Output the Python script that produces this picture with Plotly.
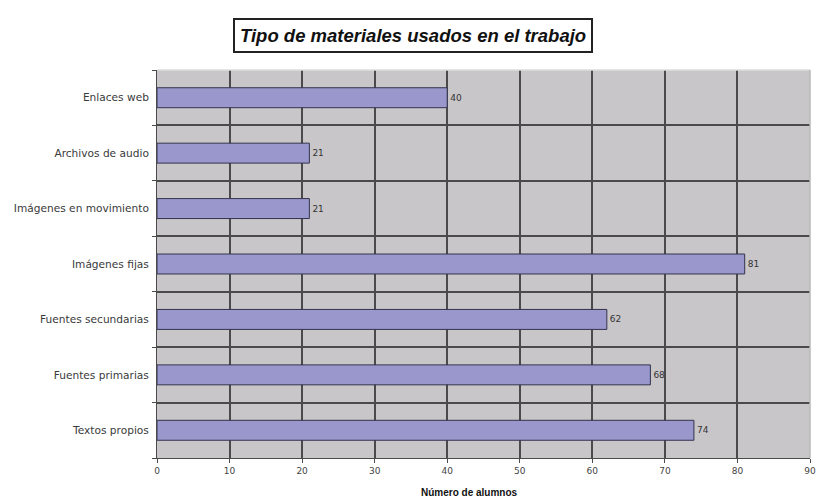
import plotly.graph_objects as go

# Material types (bottom to top) and number of students using each
categorias = [
    "Textos propios",
    "Fuentes primarias",
    "Fuentes secundarias",
    "Imágenes fijas",
    "Imágenes en movimiento",
    "Archivos de audio",
    "Enlaces web",
]
alumnos = [74, 68, 62, 81, 21, 21, 40]
x_ticks = [0, 10, 20, 30, 40, 50, 60, 70, 80, 90]

GRID = "#4A4A4A"
FONT = "DejaVu Sans, Verdana, sans-serif"

fig = go.Figure(
    go.Bar(
        y=categorias,
        x=alumnos,
        orientation="h",
        width=0.36,
        marker=dict(color="#9997CC", line=dict(color="#33334D", width=1)),
        text=[str(v) for v in alumnos],
        textposition="outside",
        textfont=dict(family=FONT, size=9, color="#333"),
        cliponaxis=False,
    )
)

fig.update_layout(
    width=822,
    height=500,
    margin=dict(l=157, r=6, t=70, b=42),
    paper_bgcolor="white",
    plot_bgcolor="#C8C6C9",
    showlegend=False,
    xaxis=dict(
        range=[0, 90],
        tickvals=x_ticks,
        ticktext=[str(v) for v in x_ticks],
        showgrid=True,
        gridcolor=GRID,
        gridwidth=1.5,
        zeroline=False,
        showline=True,
        linecolor=GRID,
        linewidth=1,
        ticks="outside",
        ticklen=4,
        tickcolor=GRID,
        ticklabeloverflow="allow",
        tickfont=dict(family=FONT, size=9, color="#444"),
    ),
    yaxis=dict(
        type="category",
        categoryorder="array",
        categoryarray=categorias,
        tickson="boundaries",
        showgrid=True,
        gridcolor=GRID,
        gridwidth=1.5,
        showline=True,
        linecolor=GRID,
        linewidth=1,
        ticks="outside",
        ticklen=4,
        tickcolor=GRID,
        ticklabelstandoff=5,
        tickfont=dict(family=FONT, size=10.6, color="#3A3A3A"),
    ),
    shapes=[
        # light frame along the top and right edges of the plot area
        dict(type="line", xref="paper", yref="paper", x0=0, x1=1, y0=1, y1=1,
             line=dict(color="#DCDCDC", width=1.5), layer="above"),
        dict(type="line", xref="paper", yref="paper", x0=1, x1=1, y0=0, y1=1,
             line=dict(color="#B8B8B8", width=1.5), layer="above"),
    ],
    annotations=[
        dict(
            text="<b><i>Tipo de materiales usados en el trabajo</i></b>",
            xref="paper",
            yref="paper",
            x=0.3915,
            y=1.0,
            yshift=35,
            xanchor="center",
            yanchor="middle",
            showarrow=False,
            font=dict(family="Liberation Sans, Arial", size=18.5, color="#111"),
            bordercolor="#222",
            borderwidth=2,
            borderpad=5,
            bgcolor="white",
        ),
        dict(
            text="<b>Número de alumnos</b>",
            xref="paper",
            yref="paper",
            x=0.478,
            y=0.0,
            yshift=-34,
            xanchor="center",
            yanchor="middle",
            showarrow=False,
            font=dict(family="Liberation Sans, Arial", size=10, color="#111"),
        ),
    ],
)

fig.write_html("out.html")
